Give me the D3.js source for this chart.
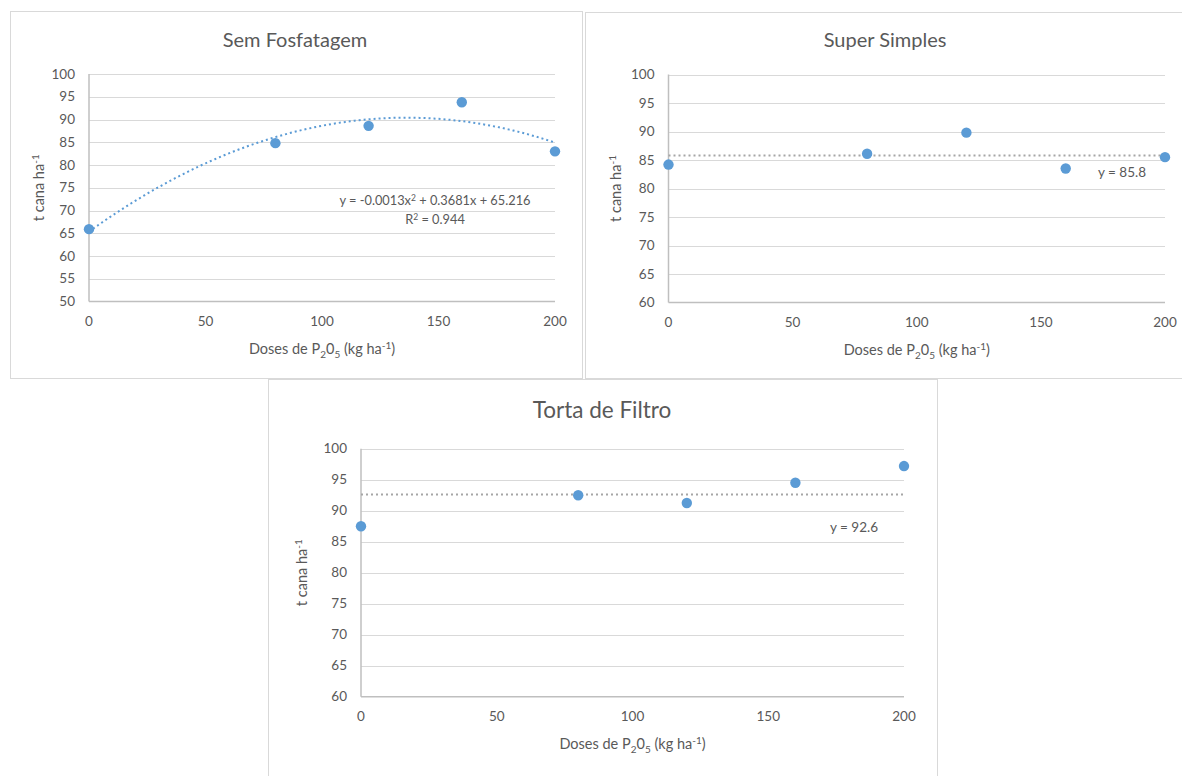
<!DOCTYPE html>
<html>
<head>
<meta charset="utf-8">
<script src="https://cdn.jsdelivr.net/npm/d3@7"></script>
<style>
  body { margin: 0; background: #fff; }
  text { font-family: Lato, "Open Sans", sans-serif; fill: #595959; }
</style>
</head>
<body>
<div id="chart"></div>
<script>
// data
const doses = [0, 80, 120, 160, 200];
const semFosfatagem = [65.9, 84.8, 88.6, 93.8, 83.0];
const superSimples = [84.2, 86.1, 89.8, 83.5, 85.5];
const tortaFiltro = [87.5, 92.5, 91.25, 94.5, 97.2];
const xTicks = [0, 50, 100, 150, 200];
const yTicksSem = [50, 55, 60, 65, 70, 75, 80, 85, 90, 95, 100];
const yTicksOther = [60, 65, 70, 75, 80, 85, 90, 95, 100];
// trend labels as printed on the chart
const polyLabel = ["y = -0.0013x", " + 0.3681x + 65.216"];
const r2Label = " = 0.944";
const meanSuper = 85.8;
const meanTorta = 92.6;

const width = 1182;
const height = 776;
const blue = "#5b9bd5";

// least squares quadratic fit (the Excel trend line is drawn from the series)
function quadFit(xs, ys) {
    let s = [0, 0, 0, 0, 0], t = [0, 0, 0];
    xs.forEach((x, i) => {
        for (let k = 0; k < 5; k++) s[k] += Math.pow(x, k);
        for (let k = 0; k < 3; k++) t[k] += Math.pow(x, k) * ys[i];
    });
    const m = [
        [s[0], s[1], s[2], t[0]],
        [s[1], s[2], s[3], t[1]],
        [s[2], s[3], s[4], t[2]]
    ];
    for (let i = 0; i < 3; i++) {
        for (let j = i + 1; j < 3; j++) {
            const f = m[j][i] / m[i][i];
            for (let k = i; k < 4; k++) m[j][k] -= f * m[i][k];
        }
    }
    const c = [0, 0, 0];
    for (let i = 2; i >= 0; i--) {
        let v = m[i][3];
        for (let k = i + 1; k < 3; k++) v -= m[i][k] * c[k];
        c[i] = v / m[i][i];
    }
    return c; // c0 + c1 x + c2 x^2
}

const svg = d3.select("#chart")
    .append("svg")
    .attr("width", width)
    .attr("height", height);

svg.append("rect").attr("width", width).attr("height", height).attr("fill", "#fff");

function drawPanel(p) {
    // panel frame
    svg.append("rect")
        .attr("x", p.box[0] + 0.5).attr("y", p.box[1] + 0.5)
        .attr("width", p.box[2]).attr("height", p.box[3])
        .attr("fill", "#fff")
        .attr("stroke", "#d9d9d9");

    const x = d3.scaleLinear().domain([0, 200]).range([p.x0, p.x1]);
    const y = d3.scaleLinear().domain([p.yTicks[0], 100]).range([p.y0, p.y1]);

    const g = svg.append("g");

    // gridlines
    g.append("g")
        .selectAll("line")
        .data(p.yTicks.slice(1))
        .join("line")
        .attr("x1", p.x0).attr("x2", p.x1)
        .attr("y1", d => Math.round(y(d)) + 0.5)
        .attr("y2", d => Math.round(y(d)) + 0.5)
        .attr("stroke", "#d9d9d9")
        .attr("stroke-width", 1.2);

    // axis lines
    g.append("line")
        .attr("x1", p.x0).attr("x2", p.x1)
        .attr("y1", y(p.yTicks[0])).attr("y2", y(p.yTicks[0]))
        .attr("stroke", "#bfbfbf").attr("stroke-width", 1.5);
    g.append("line")
        .attr("x1", p.x0).attr("x2", p.x0)
        .attr("y1", y(100)).attr("y2", y(p.yTicks[0]))
        .attr("stroke", "#bfbfbf").attr("stroke-width", 1.5);

    // tick labels
    g.append("g")
        .selectAll("text")
        .data(p.yTicks)
        .join("text")
        .attr("x", p.x0 - 14)
        .attr("y", d => y(d))
        .attr("dy", "0.35em")
        .attr("text-anchor", "end")
        .style("font-size", "13.5px")
        .text(d => d);

    g.append("g")
        .selectAll("text")
        .data(xTicks)
        .join("text")
        .attr("x", d => x(d))
        .attr("y", y(p.yTicks[0]) + 24)
        .attr("text-anchor", "middle")
        .style("font-size", "13.5px")
        .text(d => d);

    // title
    g.append("text")
        .attr("x", p.titleX).attr("y", p.titleY)
        .attr("text-anchor", "middle")
        .style("font-size", p.titleSize + "px")
        .text(p.title);

    // x axis title
    const xt = g.append("text")
        .attr("x", (p.x0 + p.x1) / 2)
        .attr("y", y(p.yTicks[0]) + 52)
        .attr("text-anchor", "middle")
        .style("font-size", "14.5px");
    xt.append("tspan").text("Doses de P");
    xt.append("tspan").attr("dy", 4).style("font-size", "10px").text("2");
    xt.append("tspan").attr("dy", -4).text("0");
    xt.append("tspan").attr("dy", 4).style("font-size", "10px").text("5");
    xt.append("tspan").attr("dy", -4).text(" (kg ha");
    xt.append("tspan").attr("dy", -5).style("font-size", "10px").text("-1");
    xt.append("tspan").attr("dy", 5).text(")");

    // y axis title
    const yt = g.append("text")
        .attr("transform", `translate(${p.yTitleX},${(p.y0 + p.y1) / 2}) rotate(-90)`)
        .attr("text-anchor", "middle")
        .style("font-size", "14.5px");
    yt.append("tspan").text("t cana ha");
    yt.append("tspan").attr("dy", -5).style("font-size", "10px").text("-1");

    // trend line
    if (p.trend === "poly") {
        const c = quadFit(doses, p.values);
        const line = d3.line()
            .x(d => x(d))
            .y(d => y(c[0] + c[1] * d + c[2] * d * d));
        g.append("path")
            .attr("d", line(d3.range(0, 201, 2)))
            .attr("fill", "none")
            .attr("stroke", blue)
            .attr("stroke-width", 2)
            .attr("stroke-dasharray", "2,3");
    } else {
        g.append("line")
            .attr("x1", x(0)).attr("x2", x(200))
            .attr("y1", y(p.mean)).attr("y2", y(p.mean))
            .attr("stroke", "#a6a6a6")
            .attr("stroke-width", 2)
            .attr("stroke-dasharray", "2,3");
    }

    // points
    g.append("g")
        .selectAll("circle")
        .data(doses.map((d, i) => ({ dose: d, value: p.values[i] })))
        .join("circle")
        .attr("cx", d => x(d.dose))
        .attr("cy", d => y(d.value))
        .attr("r", 5.2)
        .attr("fill", blue);

    // trend labels
    p.labels.forEach(l => {
        const t = g.append("text")
            .attr("x", l.x).attr("y", l.y)
            .attr("text-anchor", "middle")
            .style("font-size", l.size + "px");
        l.parts.forEach(part => {
            t.append("tspan")
                .attr("dy", part.dy || 0)
                .style("font-size", part.size ? part.size + "px" : null)
                .text(part.t);
        });
    });
}

drawPanel({
    box: [10, 11, 572, 367],
    x0: 89, x1: 555, y0: 301.5, y1: 74,
    yTicks: yTicksSem, values: semFosfatagem,
    title: "Sem Fosfatagem", titleX: 295, titleY: 47, titleSize: 20,
    yTitleX: 44,
    trend: "poly",
    labels: [
        { x: 435, y: 205, size: 12.8, parts: [{ t: polyLabel[0] }, { t: "2", dy: -4, size: 8.5 }, { t: polyLabel[1], dy: 4 }] },
        { x: 435, y: 224, size: 12.8, parts: [{ t: "R" }, { t: "2", dy: -4, size: 8.5 }, { t: r2Label, dy: 4 }] }
    ]
});

drawPanel({
    box: [585, 12, 610, 366],
    x0: 668.5, x1: 1165, y0: 302.5, y1: 74.5,
    yTicks: yTicksOther, values: superSimples, mean: meanSuper,
    title: "Super Simples", titleX: 885, titleY: 47, titleSize: 20,
    yTitleX: 621,
    trend: "mean",
    labels: [{ x: 1122, y: 177, size: 13.5, parts: [{ t: "y = " + meanSuper }] }]
});

drawPanel({
    box: [268, 379, 669, 410],
    x0: 361, x1: 904, y0: 696.7, y1: 448.7,
    yTicks: yTicksOther, values: tortaFiltro, mean: meanTorta,
    title: "Torta de Filtro", titleX: 602, titleY: 418, titleSize: 22.5,
    yTitleX: 307,
    trend: "mean",
    labels: [{ x: 854, y: 532, size: 13.5, parts: [{ t: "y = " + meanTorta }] }]
});
</script>
</body>
</html>
